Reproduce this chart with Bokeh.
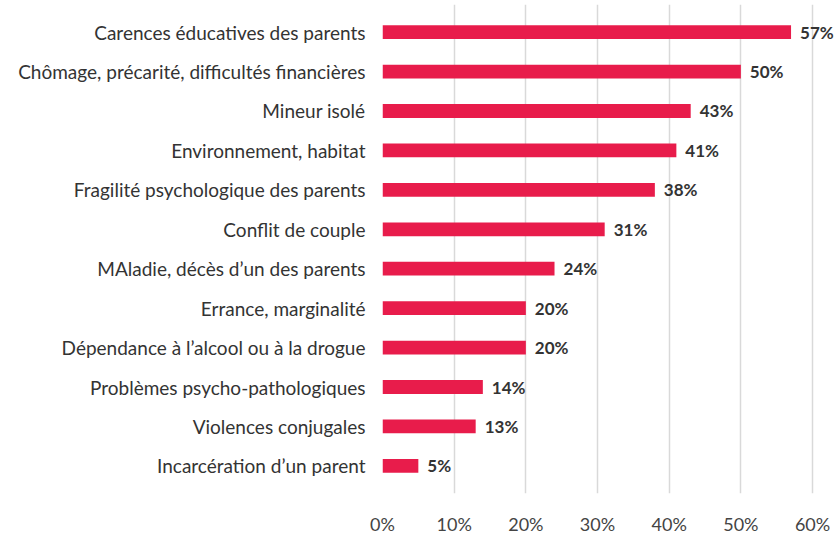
from bokeh.plotting import figure
from bokeh.models import ColumnDataSource, FactorRange, FixedTicker, LabelSet
from bokeh.core.properties import value
from bokeh.embed import file_html
from bokeh.resources import INLINE

categories = [
    "Carences éducatives des parents",
    "Chômage, précarité, difficultés financières",
    "Mineur isolé",
    "Environnement, habitat",
    "Fragilité psychologique des parents",
    "Conflit de couple",
    "MAladie, décès d’un des parents",
    "Errance, marginalité",
    "Dépendance à l’alcool ou à la drogue",
    "Problèmes psycho-pathologiques",
    "Violences conjugales",
    "Incarcération d’un parent",
]
values = [57, 50, 43, 41, 38, 31, 24, 20, 20, 14, 13, 5]
value_labels = [f"{v}%" for v in values]
x_ticks = [0, 10, 20, 30, 40, 50, 60]
x_tick_labels = {t: f"{t}%" for t in x_ticks}

src = ColumnDataSource(dict(cat=categories, val=values, lab=value_labels))

p = figure(
    frame_width=458, frame_height=489, title=None,
    y_range=FactorRange(factors=categories[::-1], range_padding=0.2, range_padding_units="absolute"),
    x_range=(0, 63.9),
    output_backend="svg", toolbar_location=None,
    min_border_left=382, min_border_top=4, min_border_right=0, min_border_bottom=33,
)
p.outline_line_color = None
p.background_fill_color = "white"
p.border_fill_color = "white"

p.hbar(y="cat", right="val", left=0, height=0.35, source=src,
       fill_color="#e81c4b", line_color=None)

labels = LabelSet(x="val", y="cat", text="lab", source=src, x_offset=9,
                  text_baseline="middle", text_align="left",
                  text_font=value("Lato"), text_font_style="bold", text_font_size="17px",
                  text_color="#333333")
p.add_layout(labels)

p.xaxis.ticker = FixedTicker(ticks=x_ticks)
p.xaxis.major_label_overrides = x_tick_labels
p.xaxis.axis_line_color = None
p.xaxis.major_tick_line_color = None
p.xaxis.minor_tick_line_color = None
p.xaxis.major_label_text_font = "Lato"
p.xaxis.major_label_text_font_size = "18px"
p.xaxis.major_label_text_color = "#444444"
p.xaxis.major_label_standoff = 13

p.yaxis.axis_line_color = None
p.yaxis.major_tick_line_color = None
p.yaxis.minor_tick_line_color = None
p.yaxis.major_label_text_font = "Lato"
p.yaxis.major_label_text_font_size = "19px"
p.yaxis.major_label_text_color = "#333333"
p.yaxis.major_label_standoff = 11

p.ygrid.grid_line_color = None
p.xgrid.grid_line_color = "#d9d9d9"
p.xgrid.grid_line_width = 1.5

open("out.html", "w").write(file_html(p, INLINE))
